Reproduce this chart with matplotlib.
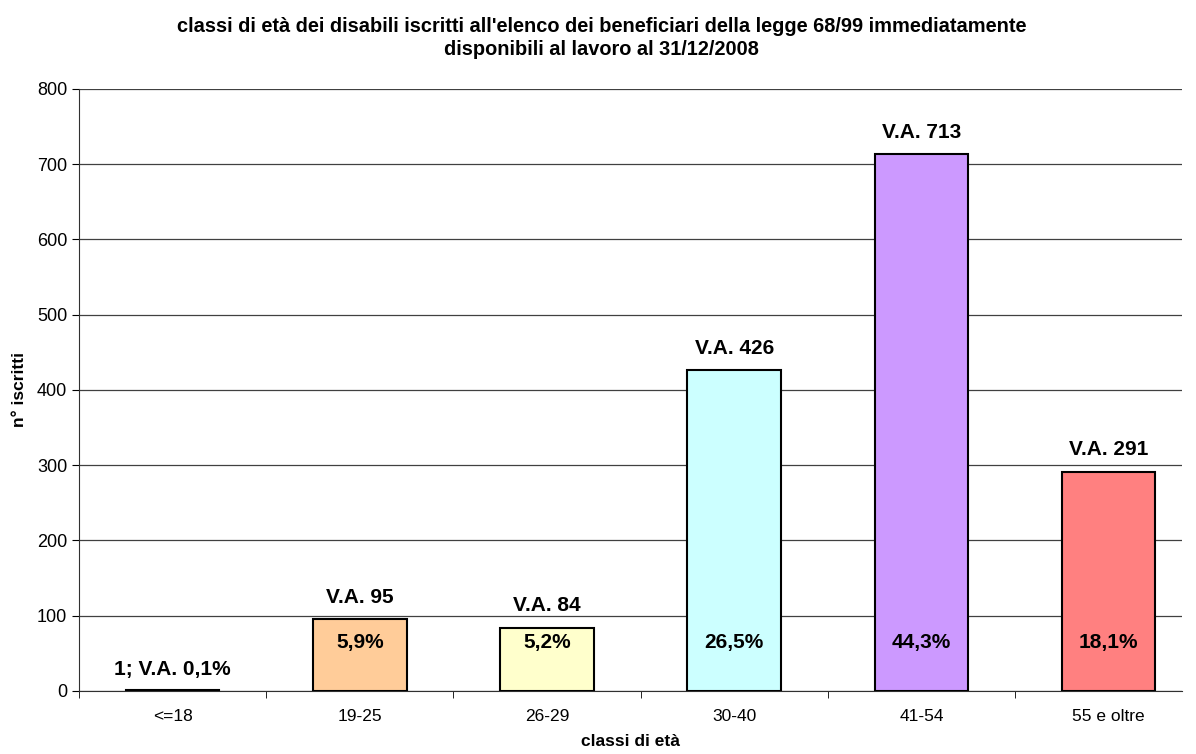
import matplotlib.pyplot as plt
import matplotlib
import numpy as np

matplotlib.rcParams["font.family"] = ["Liberation Sans", "DejaVu Sans"]

# dati
classi = ["<=18", "19-25", "26-29", "30-40", "41-54", "55 e oltre"]
iscritti = [1, 95, 84, 426, 713, 291]
etichette_alto = ["1; V.A. 0,1%", "V.A. 95", "V.A. 84", "V.A. 426", "V.A. 713", "V.A. 291"]
percentuali = ["", "5,9%", "5,2%", "26,5%", "44,3%", "18,1%"]
colori = ["#9999FF", "#FFCC99", "#FFFFCC", "#CCFFFF", "#CC99FF", "#FF8080"]

fig = plt.figure(figsize=(11.96, 7.54), dpi=100)
ax = fig.add_axes([0.066, 0.0836, 0.922, 0.7984])

x = np.arange(len(classi))
bars = ax.bar(x, iscritti, width=0.5, color=colori, edgecolor="black", linewidth=1.5, zorder=3)

# etichette sopra le barre
for i, (b, lab) in enumerate(zip(bars, etichette_alto)):
    off = 9 if i > 0 else 8
    ax.annotate(lab, (b.get_x() + b.get_width() / 2, b.get_height()),
                xytext=(0, off), textcoords="offset points",
                ha="center", va="bottom", fontsize=15, fontweight="bold")

# percentuali dentro le barre
for b, p in zip(bars, percentuali):
    if p:
        ax.text(b.get_x() + b.get_width() / 2, 65, p, ha="center", va="center",
                fontsize=15, fontweight="bold", zorder=4)

ax.set_ylim(0, 800)
ax.set_yticks(range(0, 801, 100))
ax.set_xlim(-0.5, 5.39)
ax.set_xticks(x)
ax.set_xticklabels(classi, fontsize=12.5)
ax.set_xticks(np.arange(-0.5, 5.5, 1), minor=True)
ax.tick_params(axis="x", which="major", length=0, pad=13)
ax.tick_params(axis="x", which="minor", length=5, direction="out")
ax.tick_params(axis="y", labelsize=13, length=5)

ax.grid(axis="y", color="#404040", linewidth=0.9, zorder=0)
for s in ["top", "right"]:
    ax.spines[s].set_visible(False)
ax.spines["left"].set_color("#303030")
ax.spines["bottom"].set_color("#303030")

ax.set_xlabel("classi di età", fontsize=12.5, fontweight="bold")
ax.set_ylabel("n° iscritti", fontsize=12.5, fontweight="bold")
ax.xaxis.set_label_coords(0.5, -0.071)
ax.yaxis.set_label_coords(-0.047, 0.5)

fig.suptitle("classi di età dei disabili iscritti all'elenco dei beneficiari della legge 68/99 immediatamente\n"
             "disponibili al lavoro al 31/12/2008",
             x=0.503, y=0.978, fontsize=14.4, fontweight="bold", linespacing=1.3)

plt.savefig("out.png", dpi=100)
